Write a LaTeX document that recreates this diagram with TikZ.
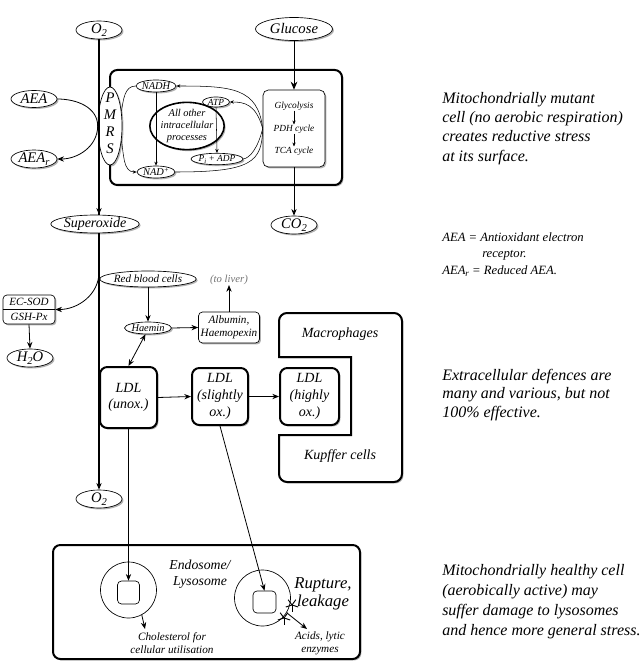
\documentclass[tikz,border=0pt]{standalone}
\usepackage{fontspec}
\setmainfont{Liberation Serif}
\usepackage{graphicx}
\usetikzlibrary{shapes.geometric,arrows.meta,shadows,calc}
\newcommand\fs[2]{\fontsize{#1}{#2}\selectfont\itshape}
\newcommand\lo[1]{\raisebox{-0.45ex}{\scalebox{0.72}{#1}}}
\newcommand\hi[1]{\raisebox{0.6ex}{\scalebox{0.72}{#1}}}
\tikzset{
  shd/.style={drop shadow={shadow xshift=1.1pt,shadow yshift=-1.1pt,opacity=0.3,fill=black}},
  sz/.style 2 args={minimum width=#1*0.75pt, minimum height=#2*0.75pt},
  ell/.style={ellipse, draw, line width=0.5pt, fill=white, inner sep=0pt, shd},
  bigbox/.style={rectangle, rounded corners=5.5pt, draw, line width=1.5pt, fill=white, inner sep=0pt, align=center, shd},
  smallbox/.style={rectangle, rounded corners=3pt, draw, line width=0.5pt, fill=white, inner sep=0pt, align=center, shd},
  arr/.style={-{Stealth[length=5pt,width=4pt]}, line width=0.6pt},
  barr/.style={-{Stealth[length=6pt,width=5pt]}, line width=0.6pt},
  sarr/.style={-{Stealth[length=3pt,width=2.5pt]}, line width=0.4pt},
  txt/.style={inner sep=0pt, align=center},
  side/.style={inner sep=0pt, align=left, anchor=west},
}
\begin{document}
\begin{tikzpicture}[x=0.75pt,y=-0.75pt]
\path[use as bounding box, fill=white] (0,0) rectangle (639,670);

% ---------- top: mutant cell ----------
\node[ell,sz={46}{17},font=\fs{11}{12}] (O2t) at (99,30) {O\lo{2}};
\node[ell,sz={77}{23},font=\fs{11}{12}] (Glu) at (294,29) {Glucose};
\node[ell,sz={46}{17},font=\fs{11}{12}] (AEA) at (34,99) {AEA};
\node[ell,sz={46}{17},font=\fs{11}{12}] (AEAr) at (34,159) {AEA\lo{r}};

\draw[line width=1pt] (O2t.south) -- (99,120);
\node[bigbox,sz={232}{115}] (cell1) at (226,127.5) {};
\node[smallbox,rounded corners=4pt,sz={62}{77}] (Gly) at (294,128.5) {};
\node[txt,font=\fs{7}{8}] (g1) at (294,106) {Glycolysis};
\node[txt,font=\fs{7}{8}] (g2) at (294,129) {PDH cycle};
\node[txt,font=\fs{7}{8}] (g3) at (294,151) {TCA cycle};
\draw[sarr] (g1.south) -- (g2.north);
\draw[sarr] (g2.south) -- (g3.north);

\node[ell,sz={24}{78}] (PMRS) at (110,126) {};
\node[txt,font=\fs{11}{12.75}] (pmrst) at (110,123) {P\\M\\R\\S};

\node[ell,sz={38}{12},font=\fs{7.8}{8}] (NADH) at (156,86) {NADH};
\node[ell,sz={38}{12},font=\fs{7.8}{8}] (NADp) at (156,172) {NAD\hi{+}};
\node[ell,sz={27}{10},font=\fs{7}{8}] (ATP) at (216,102) {ATP};
\node[ell,sz={45}{11},font=\fs{7}{8}] (PiADP) at (217,159) {P\lo{i} + ADP};
\node[ell,line width=1.2pt,sz={61}{47},font=\fs{7.8}{9},align=center] (AllO) at (187,126) {All other\\intracellular\\processes};

\draw[sarr] (NADH.south) -- (NADp.north);
\draw[sarr] (ATP.south) -- (PiADP.north);
\draw[sarr] (Gly.west) .. controls (258,88) and (232,86) .. (NADH.east);
\draw[sarr] (Gly.west) .. controls (256,104) and (244,102) .. (ATP.east);
\draw[line width=0.4pt] (PiADP.east) .. controls (250,158) and (258,148) .. (Gly.west);
\draw[line width=0.4pt] (NADp.east) .. controls (252,172) and (262,162) .. (Gly.west);
\draw[line width=0.4pt] (NADH.west) to[out=180,in=80] (PMRS.52);
\draw[sarr] (PMRS.-52) to[out=-80,in=180] (NADp.west);

\draw[arr] (AEA.east) to[out=0,in=90] (PMRS.west) to[out=-90,in=0] (AEAr.east);
\draw[line width=1pt] (99,120) -- (99,215);

\draw[barr] (Glu.south) -- (Gly.north);
\node[ell,sz={46}{17},font=\fs{11}{12}] (CO2) at (294,225) {CO\lo{2}};
\draw[arr] (Gly.south) -- (CO2.north);

% ---------- extracellular ----------
\node[ell,sz={68}{17},font=\fs{10.5}{12}] (Super) at (95,224) {Superoxide};
\draw[arr,line width=1pt] (O2t.south) -- (Super.north -| O2t.south);

\node[ell,sz={46}{17},font=\fs{11}{12}] (O2b) at (99,499) {O\lo{2}};
\draw[arr,line width=1pt] (Super.south -| O2b.north) -- (O2b.north);
\coordinate (br) at (99,272);

\node[smallbox,sz={52}{29}] (ecsod) at (29,309.5) {};
\draw[line width=0.4pt] (ecsod.west) -- (ecsod.east);
\node[txt,font=\fs{8.3}{9}] (ec1) at (29,302) {EC-SOD};
\node[txt,font=\fs{8.3}{9}] (ec2) at (29,317) {GSH-Px};
\draw[arr] (br) to[out=-90,in=0] (ecsod.east);
\node[ell,sz={46}{17},font=\fs{11}{12}] (H2O) at (30,358) {H\lo{2}O};
\draw[arr] (ecsod.south) -- (H2O.north);

\node[ell,sz={77}{16},font=\fs{8.3}{9}] (RBC) at (148,279) {Red blood cells};
\node[ell,sz={47}{12},font=\fs{7.8}{8}] (Haem) at (148,328) {Haemin};
\node[smallbox,sz={61}{31},font=\fs{8.4}{10}] (Alb) at (229,327.5) {Albumin,\\Haemopexin};
\node[txt,font=\fs{8}{9},text=black!55] (liver) at (229,280) {(to liver)};
\draw[arr] (RBC.south) -- (Haem.north);
\draw[arr] (Haem.east) -- (Alb.west);
\draw[arr] (Alb.north) -- (liver.south);

\node[bigbox,sz={57}{61},font=\fs{10.5}{12.5}] (LDLu) at (128.5,397.5) {LDL\\(unox.)};
\node[bigbox,sz={56}{57},font=\fs{10.5}{12.5}] (LDLs) at (220,396.5) {LDL\\(slightly\\ox.)};
\draw[{Stealth[length=5pt,width=4pt]}-{Stealth[length=5pt,width=4pt]},line width=0.6pt] (Haem.-112) -- (LDLu.north);
\draw[arr] (LDLu.east) -- (LDLs.west);

\draw[line width=1.5pt, fill=white, shd, rounded corners=6pt] (279,357) -- (279,313) -- (402,313) -- (402,482) -- (279,482) [sharp corners] -- (279,435) -- (351,435) -- (351,357) -- cycle;
\node[txt,font=\fs{10.5}{12}] (mac) at (340,334) {Macrophages};
\node[txt,font=\fs{10.5}{12}] (kup) at (340,456) {Kupffer cells};
\node[bigbox,sz={59}{57},font=\fs{10.5}{12.5}] (LDLh) at (309.5,396.5) {LDL\\(highly\\ox.)};
\draw[arr] (LDLs.east) -- (LDLh.west);

% ---------- bottom: healthy cell ----------
\node[bigbox,sz={307}{114}] (cell2) at (206.5,602) {};
\node[circle,draw,line width=0.5pt,minimum size=56*0.75pt,inner sep=0pt] (c1) at (128.5,590) {};
\node[rectangle,rounded corners=3pt,draw,line width=0.5pt,sz={22}{23}] (sq1) at (128.5,592.5) {};
\node[circle,draw,line width=0.5pt,minimum size=56*0.75pt,inner sep=0pt] (c2) at (262.5,598) {};
\node[rectangle,rounded corners=3pt,draw,line width=0.5pt,sz={23}{22}] (sq2) at (264.5,602) {};

\node[txt,font=\fs{10.3}{12}] (endo) at (200,574) {Endosome/\\Lysosome};
\node[txt,font=\fs{12.5}{13.5}] (rupt) at (323,594) {Rupture,\\leakage};
\node[txt,font=\fs{8.4}{9.75}] (chol) at (172,643) {Cholesterol for\\cellular utilisation};
\node[txt,font=\fs{8.4}{9.75}] (acid) at (320,643) {Acids, lytic\\enzymes};

\draw[arr] (LDLu.south) -- (sq1.north);
\draw[arr] (LDLs.south) -- (sq2.north);

\coordinate (cholend) at (145,629);
\draw[arr] (c1.-62) -- (cholend);
\coordinate (s1) at (292,605);
\coordinate (s2) at (284,618);
\coordinate (acidend) at (307,629);
\draw[arr] (287,613) -- (acidend);
\foreach \s in {s1,s2}{
  \foreach \a in {90,162,234,306,18}{
    \draw[line width=0.7pt] (\s) -- ++(\a:6.5);
  }
}

% ---------- side texts ----------
\node[side,font=\fs{12}{14.4}] (t1) at (442,128.5) {Mitochondrially mutant\\cell (no aerobic respiration)\\creates reductive stress\\at its surface.};
\node[side,font=\fs{9.5}{12.4}] (t2) at (442,254.5) {AEA = Antioxidant electron\\\hspace*{30pt}receptor.\\AEA\lo{r} = Reduced AEA.};
\node[side,font=\fs{12}{13.6}] (t3) at (442,395) {Extracellular defences are\\many and various, but not\\100\% effective.};
\node[side,font=\fs{12}{15}] (t4) at (442,602) {Mitochondrially healthy cell\\(aerobically active) may\\suffer damage to lysosomes\\and hence more general stress.};
\end{tikzpicture}
\end{document}
